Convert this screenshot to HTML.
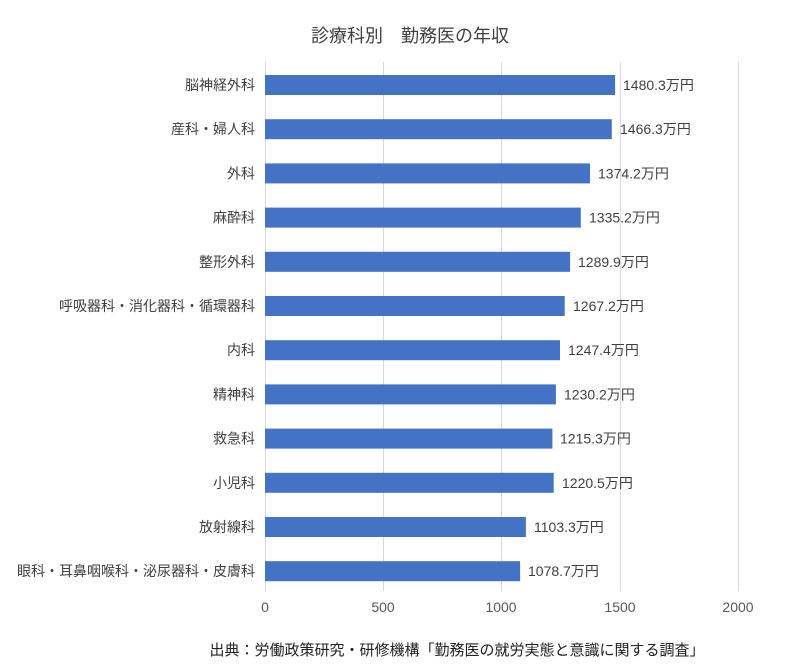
<!DOCTYPE html>
<html><head><meta charset="utf-8"><style>
body{margin:0;background:#fff;}
svg text{font-family:"Liberation Sans","Noto Sans CJK JP",sans-serif;}
</style></head><body>
<svg width="800" height="667" xmlns="http://www.w3.org/2000/svg">
<rect width="800" height="667" fill="#fff"/>
<text x="410" y="42" text-anchor="middle" font-size="18" fill="#404040">診療科別　勤務医の年収</text>
<g stroke="#d9d9d9" stroke-width="1">
<line x1="265.5" y1="62" x2="265.5" y2="591"/>
<line x1="383.5" y1="62" x2="383.5" y2="591"/>
<line x1="501.5" y1="62" x2="501.5" y2="591"/>
<line x1="620.5" y1="62" x2="620.5" y2="591"/>
<line x1="738.5" y1="62" x2="738.5" y2="591"/>
</g>
<g font-size="14" fill="#595959" text-anchor="middle">
<text x="265" y="612">0</text><text x="383" y="612">500</text><text x="501" y="612">1000</text><text x="620" y="612">1500</text><text x="738" y="612">2000</text>
</g>
<g fill="#4472c4">
<rect x="265" y="75" width="350.1" height="20"/>
<rect x="265" y="119.2" width="346.8" height="20"/>
<rect x="265" y="163.4" width="325" height="20"/>
<rect x="265" y="207.6" width="315.8" height="20"/>
<rect x="265" y="251.8" width="305.1" height="20"/>
<rect x="265" y="296" width="299.7" height="20"/>
<rect x="265" y="340.2" width="295" height="20"/>
<rect x="265" y="384.4" width="290.9" height="20"/>
<rect x="265" y="428.6" width="287.4" height="20"/>
<rect x="265" y="472.8" width="288.7" height="20"/>
<rect x="265" y="517" width="260.9" height="20"/>
<rect x="265" y="561.2" width="255.1" height="20"/>
</g>
<g font-size="14" fill="#404040" text-anchor="end">
<text x="255" y="90">脳神経外科</text>
<text x="255" y="134.2">産科・婦人科</text>
<text x="255" y="178.4">外科</text>
<text x="255" y="222.6">麻酔科</text>
<text x="255" y="266.8">整形外科</text>
<text x="255" y="311">呼吸器科・消化器科・循環器科</text>
<text x="255" y="355.2">内科</text>
<text x="255" y="399.4">精神科</text>
<text x="255" y="443.6">救急科</text>
<text x="255" y="487.8">小児科</text>
<text x="255" y="532">放射線科</text>
<text x="255" y="576.2">眼科・耳鼻咽喉科・泌尿器科・皮膚科</text>
</g>
<g font-size="14" fill="#404040">
<text x="623" y="90">1480.3万円</text>
<text x="620" y="134.2">1466.3万円</text>
<text x="598" y="178.4">1374.2万円</text>
<text x="589" y="222.6">1335.2万円</text>
<text x="578" y="266.8">1289.9万円</text>
<text x="573" y="311">1267.2万円</text>
<text x="568" y="355.2">1247.4万円</text>
<text x="564" y="399.4">1230.2万円</text>
<text x="560" y="443.6">1215.3万円</text>
<text x="562" y="487.8">1220.5万円</text>
<text x="534" y="532">1103.3万円</text>
<text x="528" y="576.2">1078.7万円</text>
</g>
<text x="457" y="655" text-anchor="middle" font-size="15" fill="#222">出典：労働政策研究・研修機構「勤務医の就労実態と意識に関する調査」</text>
</svg>
</body></html>
